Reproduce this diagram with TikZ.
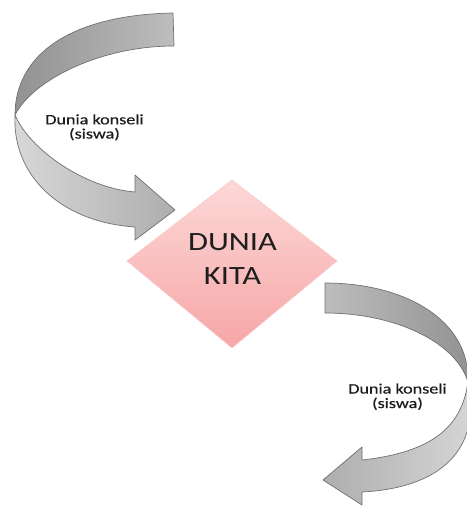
\documentclass[tikz,border=0pt]{standalone}
\usepackage{fontspec}
\setmainfont{Carlito}
\newfontfamily\labelfont[FakeBold=0.6]{Carlito}
\definecolor{edgegray}{HTML}{707070}
\definecolor{bandDark}{HTML}{929292}
\definecolor{bandMid}{HTML}{BDBDBD}
\definecolor{bandLight}{HTML}{D8D8D8}
\definecolor{pinkTop}{HTML}{FDD8D8}
\definecolor{pinkBot}{HTML}{F6A6A6}
\definecolor{txt}{HTML}{1E1E1E}
\tikzset{
  band/.style={draw=edgegray, line width=0.7pt, line join=round},
  smalltext/.style={text=txt, inner sep=0pt, anchor=base, font=\labelfont\fontsize{14.4}{14.5}\selectfont},
  bigtext/.style={text=txt, inner sep=0pt, anchor=base, font=\fontsize{26.4}{34}\selectfont},
}
\newcommand{\wide}[1]{\scalebox{1.23}[1]{#1}}
\newcommand{\swide}[1]{\scalebox{1.26}[1]{#1}}
\begin{document}
\begin{tikzpicture}[x=1pt,y=-1pt]
\useasboundingbox (0,0) rectangle (466,506);

% ---------- top curved arrow ----------
\coordinate (ta1) at (173,13);
\coordinate (ta2) at (174,46);
\coordinate (tw1) at (15,115);
\coordinate (th1) at (135,192);
\coordinate (th2) at (135,175);
\coordinate (ttip) at (175,210);
\coordinate (th3) at (135,240);
\coordinate (th4) at (135,227);
% upper (back) part of the band
\path[band, left color=bandDark, right color=bandMid]
  (ta1) .. controls (70,15) and (15,55) .. (tw1)
        .. controls (33,80) and (100,46) .. (ta2) -- cycle;
% lower (front) part of the band with head
\path[band, left color=bandLight, right color=bandMid!92!black]
  (tw1) .. controls (30,150) and (85,188) .. (th1)
  -- (th2) -- (ttip) -- (th3) -- (th4)
  .. controls (60,222) and (12,175) .. (tw1) -- cycle;

% ---------- bottom curved arrow ----------
\coordinate (ba1) at (325,283);
\coordinate (ba2) at (325,313);
\coordinate (tw2) at (468,382);
\coordinate (bh1) at (362,460);
\coordinate (bh2) at (362,447);
\coordinate (btip) at (323,480);
\coordinate (bh3) at (362,505);
\coordinate (bh4) at (362,492);
\path[band, left color=bandMid, right color=bandDark]
  (ba1) .. controls (405,283) and (470,320) .. (tw2)
        .. controls (456,342) and (395,313) .. (ba2) -- cycle;
\path[band, right color=bandLight, left color=bandMid!92!black]
  (tw2) .. controls (462,425) and (435,452) .. (bh1)
  -- (bh2) -- (btip) -- (bh3) -- (bh4)
  .. controls (440,488) and (482,450) .. (tw2) -- cycle;

% ---------- diamond ----------
\coordinate (dt) at (232,180);
\coordinate (dl) at (127,261);
\coordinate (db) at (232,348);
\coordinate (dr) at (337,261);
\path[draw=pinkBot!60!white, line width=0.6pt, top color=pinkTop, bottom color=pinkBot]
  (dt) -- (dr) -- (db) -- (dl) -- cycle;

% ---------- texts ----------
\node[bigtext] (d1) at (232.5,250) {\wide{DUNIA}};
\node[bigtext] (d2) at (232.5,284) {\wide{KITA}};
\node[smalltext] (t1) at (94.5,124.3) {\swide{Dunia konseli}};
\node[smalltext] (t2) at (94.5,138.5) {\swide{(siswa)}};
\node[smalltext] (b1) at (397.5,393.5) {\swide{Dunia konseli}};
\node[smalltext] (b2) at (397.5,408) {\swide{(siswa)}};
\end{tikzpicture}
\end{document}
